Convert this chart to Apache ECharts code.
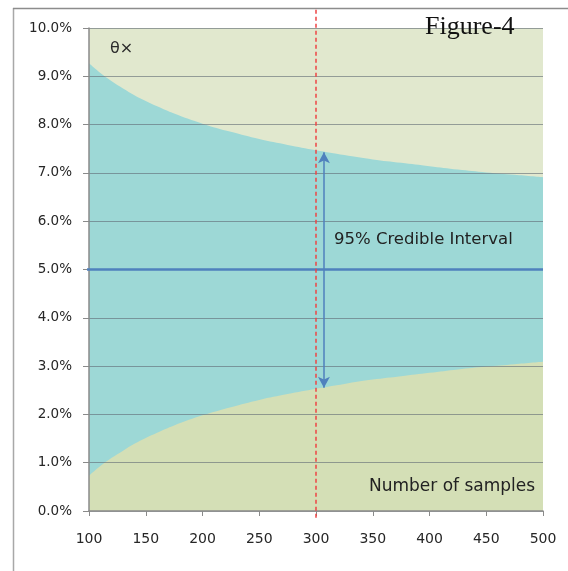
<!DOCTYPE html>
<html>
<head>
<meta charset="utf-8">
<script src="https://cdn.jsdelivr.net/npm/echarts@6/dist/echarts.min.js"></script>
<style>
html,body{margin:0;padding:0;background:#fff;}
#chart{width:568px;height:571px;}
</style>
</head>
<body>
<div id="chart"></div>
<script>
// Number of samples (x) and the 95% credible interval bounds (%)
const samples    = [100, 110, 120, 130, 140, 150, 160, 175, 200, 225, 250, 275, 300, 325, 350, 375, 400, 425, 450, 475, 500];
const upperBound = [9.27, 9.07, 8.90, 8.75, 8.61, 8.49, 8.38, 8.23, 8.02, 7.85, 7.70, 7.58, 7.47, 7.37, 7.28, 7.21, 7.14, 7.07, 7.01, 6.96, 6.91];
const lowerBound = [0.73, 0.93, 1.10, 1.25, 1.39, 1.51, 1.62, 1.77, 1.98, 2.15, 2.30, 2.42, 2.53, 2.63, 2.72, 2.79, 2.86, 2.93, 2.99, 3.04, 3.09];
const meanLine   = [[87, 5.0], [500, 5.0]];
const markerX    = [[300, -0.14], [300, 10.42]];
const arrowSpan  = [[307, 7.43], [307, 2.55]];
const xTicks     = [100, 150, 200, 250, 300, 350, 400, 450, 500];
const yTicks     = [0, 1, 2, 3, 4, 5, 6, 7, 8, 9, 10];

const chart = echarts.init(document.getElementById('chart'), null, {renderer: 'canvas'});

const upperData = samples.map((s, i) => [s, upperBound[i]]);
const lowerData = samples.map((s, i) => [s, lowerBound[i]]);

const option = {
  animation: false,
  backgroundColor: '#ffffff',
  grid: {
    left: 89, right: 25, top: 28, bottom: 60,
    show: true, backgroundColor: '#E1E8CE', borderWidth: 0
  },
  xAxis: {
    type: 'value', min: xTicks[0], max: xTicks[xTicks.length - 1], interval: 50,
    z: 3,
    axisLine: {show: true, lineStyle: {color: '#8a8a8a', width: 1.5}},
    axisTick: {show: true, length: 5, lineStyle: {color: '#8a8a8a', width: 1}},
    splitLine: {show: false},
    axisLabel: {
      margin: 21, color: '#262626', fontFamily: 'DejaVu Sans', fontSize: 14
    }
  },
  yAxis: {
    type: 'value', min: yTicks[0], max: yTicks[yTicks.length - 1], interval: 1,
    z: 3,
    axisLine: {show: true, lineStyle: {color: '#8a8a8a', width: 1.5}},
    axisTick: {show: true, length: 6, lineStyle: {color: '#8a8a8a', width: 1}},
    splitLine: {show: true, lineStyle: {color: 'rgba(95,105,115,0.6)', width: 1}},
    axisLabel: {
      margin: 17, color: '#262626', fontFamily: 'DejaVu Sans', fontSize: 13.5,
      formatter: v => v.toFixed(1) + '%'
    }
  },
  series: [
    {
      name: 'upper', type: 'line', data: upperData, smooth: 0.4, showSymbol: false,
      z: 1, lineStyle: {width: 0}, areaStyle: {color: '#9DD8D6', opacity: 1}, silent: true
    },
    {
      name: 'lower', type: 'line', data: lowerData, smooth: 0.4, showSymbol: false,
      z: 2, lineStyle: {width: 0}, areaStyle: {color: '#D4DFB6', opacity: 1}, silent: true
    },
    {
      name: 'mean', type: 'line', data: meanLine, showSymbol: false, clip: false,
      z: 5, lineStyle: {color: '#4F81BD', width: 2.5}, silent: true,
      markLine: {
        silent: true, symbol: ['arrow', 'arrow'], symbolSize: [9, 11],
        label: {show: false},
        lineStyle: {color: '#4F81BD', width: 1.5, type: 'solid'},
        data: [[{coord: arrowSpan[0]}, {coord: arrowSpan[1]}]]
      }
    },
    {
      name: 'marker', type: 'line', data: markerX, showSymbol: false, clip: false,
      z: 6, lineStyle: {color: '#EE4444', width: 1.5, type: [4, 3]}, silent: true
    }
  ],
  graphic: [
    {type: 'line', shape: {x1: 13.5, y1: 8, x2: 13.5, y2: 571}, style: {stroke: '#a8a8a8', lineWidth: 1.5}, silent: true},
    {type: 'line', shape: {x1: 13, y1: 8.5, x2: 568, y2: 8.5}, style: {stroke: '#8c8c8c', lineWidth: 1.5}, silent: true},
    {type: 'text', left: 110, top: 41, z: 10,
      style: {text: 'θ×', font: '16px "DejaVu Sans"', fill: '#2b2b2b'}},
    {type: 'text', left: 425, top: 14, z: 10,
      style: {text: 'Figure-4', font: '26px "Liberation Serif"', fill: '#111111'}},
    {type: 'text', left: 334, top: 231, z: 10,
      style: {text: '95% Credible Interval', font: '16.5px "DejaVu Sans"', fill: '#222222'}},
    {type: 'text', left: 369, top: 478, z: 10,
      style: {text: 'Number of samples', font: '17px "DejaVu Sans"', fill: '#222222'}}
  ]
};
chart.setOption(option);
</script>
</body>
</html>
